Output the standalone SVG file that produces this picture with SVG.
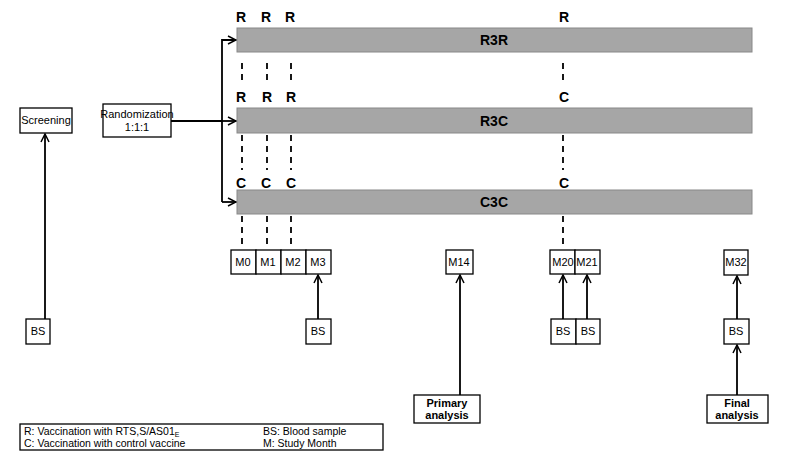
<svg xmlns="http://www.w3.org/2000/svg" width="785" height="467" viewBox="0 0 785 467">
<style>
text{font-family:"Liberation Sans",Arial,sans-serif;fill:#000}
.b{fill:#fff;stroke:#000;stroke-width:1.3}
.bar{fill:#a6a6a6;stroke:#888;stroke-width:1}
.t{font-size:11px;text-anchor:middle}
.bt{font-size:14px;font-weight:bold;text-anchor:middle}
.bl{font-size:11px;font-weight:bold;text-anchor:middle}
.c{fill:none;stroke:#000;stroke-width:1.8}
.d{stroke:#000;stroke-width:1.8;stroke-dasharray:6,5}
</style>
<defs><marker id="a" viewBox="0 0 10 10" refX="9" refY="5" markerWidth="10" markerHeight="10" markerUnits="userSpaceOnUse" orient="auto"><path d="M1,1 L9,5 L1,9" fill="none" stroke="#000" stroke-width="1.5"/></marker></defs>
<g id="bars">
<rect class="bar" x="237" y="28" width="515" height="24"/><text class="bt" x="494" y="45">R3R</text>
<rect class="bar" x="237" y="108" width="515" height="25"/><text class="bt" x="494" y="126">R3C</text>
<rect class="bar" x="237" y="190" width="515" height="24"/><text class="bt" x="494" y="207">C3C</text>
</g>
<g id="vacc" class="bt">
<text x="241" y="22">R</text><text x="266" y="22">R</text><text x="290" y="22">R</text><text x="564" y="22">R</text>
<text x="241" y="102">R</text><text x="267" y="102">R</text><text x="291" y="102">R</text><text x="564" y="102">C</text>
<text x="241" y="188">C</text><text x="266" y="188">C</text><text x="291" y="188">C</text><text x="564" y="188">C</text>
</g>
<g id="connectors">
<path class="d" d="M242,63V80M267,63V80M291,63V80M563,63V80M242,135V170M267,135V170M291,135V170M563,135V170M242,216V245M267,216V245M291,216V245M563,216V245"/>
<path class="c" d="M171,121H222"/>
<path class="c" d="M222,121V202"/>
<path class="c" d="M222,121V40H236" marker-end="url(#a)"/>
<path class="c" d="M222,121H236" marker-end="url(#a)"/>
<path class="c" d="M222,202H236" marker-end="url(#a)"/>
<path class="c" d="M45,319V134" marker-end="url(#a)"/>
<path class="c" d="M318,319V275" marker-end="url(#a)"/>
<path class="c" d="M460,395V275" marker-end="url(#a)"/>
<path class="c" d="M563,319V275" marker-end="url(#a)"/>
<path class="c" d="M587,319V275" marker-end="url(#a)"/>
<path class="c" d="M737,319V276" marker-end="url(#a)"/>
<path class="c" d="M737,395V345" marker-end="url(#a)"/>
</g>
<g id="screening"><rect class="b" x="20" y="108" width="52" height="25"/><text class="t" x="46" y="124">Screening</text></g>
<g id="randomization"><rect class="b" x="103" y="104" width="68" height="33"/><text class="t" x="137" y="118" font-size="10">Randomization</text><text class="t" x="137" y="131" font-size="10">1:1:1</text></g>
<g id="m0"><rect class="b" x="231" y="250" width="25" height="24"/><text class="t" x="243" y="266">M0</text></g>
<g id="m1"><rect class="b" x="256" y="250" width="25" height="24"/><text class="t" x="268" y="266">M1</text></g>
<g id="m2"><rect class="b" x="281" y="250" width="25" height="24"/><text class="t" x="293" y="266">M2</text></g>
<g id="m3"><rect class="b" x="306" y="250" width="25" height="24"/><text class="t" x="318" y="266">M3</text></g>
<g id="m14"><rect class="b" x="446" y="250" width="27" height="24"/><text class="t" x="459" y="266">M14</text></g>
<g id="m20"><rect class="b" x="550" y="250" width="25" height="24"/><text class="t" x="563" y="266">M20</text></g>
<g id="m21"><rect class="b" x="575" y="250" width="25" height="24"/><text class="t" x="587" y="266">M21</text></g>
<g id="m32"><rect class="b" x="724" y="250" width="24" height="25"/><text class="t" x="736" y="266">M32</text></g>
<g id="bs0"><rect class="b" x="26" y="319" width="24" height="25"/><text class="t" x="38" y="335">BS</text></g>
<g id="bs3"><rect class="b" x="306" y="319" width="25" height="25"/><text class="t" x="318" y="335">BS</text></g>
<g id="bs20"><rect class="b" x="551" y="319" width="25" height="25"/><text class="t" x="563" y="335">BS</text></g>
<g id="bs21"><rect class="b" x="576" y="319" width="24" height="25"/><text class="t" x="588" y="335">BS</text></g>
<g id="bs32"><rect class="b" x="724" y="319" width="25" height="25"/><text class="t" x="736" y="335">BS</text></g>
<g id="primary"><rect class="b" x="414" y="395" width="66" height="28"/><text class="bl" x="447" y="407">Primary</text><text class="bl" x="447" y="419">analysis</text></g>
<g id="final"><rect class="b" x="707" y="395" width="61" height="28"/><text class="bl" x="737" y="407">Final</text><text class="bl" x="737" y="419">analysis</text></g>
<g id="legend"><rect class="b" x="20" y="424" width="363" height="26"/>
<text x="24" y="435" font-size="10.5">R: Vaccination with RTS,S/AS01<tspan font-size="7" dy="2">E</tspan></text>
<text x="24" y="447" font-size="10.5">C: Vaccination with control vaccine</text>
<text x="263" y="435" font-size="10.5">BS: Blood sample</text>
<text x="263" y="447" font-size="10.5">M: Study Month</text>
</g>
</svg>
